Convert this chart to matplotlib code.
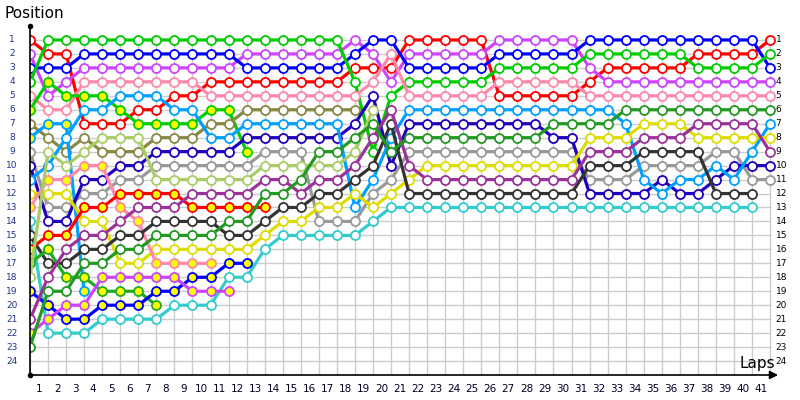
import matplotlib.pyplot as plt

# lap 0 = starting grid, then laps 1..41
laps = list(range(0, 42))
lap_labels = [str(i) for i in range(1, 42)]
grid_rows = list(range(1, 25))

# position of every car at the end of each lap (index = lap)
red = [1, 2, 2, 7, 7, 7, 6, 6, 5, 5, 4, 4, 4, 4, 4, 4, 4, 4, 3, 3, 3, 1, 1, 1, 1, 1,
       5, 5, 5, 5, 5, 4, 3, 3, 3, 3, 3, 2, 2, 2, 2, 1]
violet = [2, 5, 4, 3, 3, 3, 3, 3, 3, 3, 3, 3, 2, 2, 2, 2, 2, 2, 1, 2, 4, 2, 2, 2, 2, 2,
          1, 1, 1, 1, 1, 3, 4, 4, 4, 4, 4, 4, 4, 4, 4, 4]
blue = [3, 3, 3, 2, 2, 2, 2, 2, 2, 2, 2, 2, 3, 3, 3, 3, 3, 3, 2, 1, 1, 3, 3, 3, 3, 3,
        2, 2, 2, 2, 2, 1, 1, 1, 1, 1, 1, 1, 1, 1, 1, 3]
green = [4, 1, 1, 1, 1, 1, 1, 1, 1, 1, 1, 1, 1, 1, 1, 1, 1, 1, 4, 9, 5, 4, 4, 4, 4, 4,
         3, 3, 3, 3, 3, 2, 2, 2, 2, 2, 2, 3, 3, 3, 3, 2]
pink = [5, 6, 6, 4, 4, 4, 4, 4, 4, 4, 5, 5, 5, 5, 5, 5, 5, 5, 5, 4, 2, 5, 5, 5, 5, 5,
        4, 4, 4, 4, 4, 5, 5, 5, 5, 5, 5, 5, 5, 5, 5, 5]
green_y = [6, 4, 5, 5, 5, 6, 7, 7, 7, 7, 6, 6, 9]
olive = [7, 8, 9, 8, 9, 9, 9, 8, 8, 8, 7, 7, 6, 6, 6, 6, 6, 6, 6]
lblue_y = [8, 7, 7, 19]
gray = [9, 13, 13, 12, 12, 11, 11, 10, 10, 10, 10, 10, 10, 9, 9, 9, 14, 14, 14, 12, 11,
        9, 9, 9, 9, 9, 9, 9, 9, 9, 9, 11, 11, 11, 10, 10, 10, 10, 9, 9, 11, 11]
dkblue = [10, 14, 14, 11, 11, 10, 10, 9, 9, 9, 9, 9, 8, 8, 8, 8, 8, 8, 7, 5, 10, 7, 7,
          7, 7, 7, 7, 7, 7, 8, 8, 12, 12, 12, 12, 11, 12, 12, 11, 10, 10, 10]
lblue = [11, 10, 8, 6, 6, 5, 5, 5, 6, 6, 8, 8, 7, 7, 7, 7, 7, 7, 13, 11, 8, 6, 6, 6, 6,
         6, 6, 6, 6, 6, 6, 6, 6, 7, 11, 12, 11, 11, 10, 11, 9, 7]
yellow = [12, 12, 12, 14, 14, 17, 17, 16, 16, 16, 16, 16, 16, 15, 14, 14, 13, 13, 12, 13,
          12, 11, 10, 10, 10, 10, 10, 10, 10, 10, 10, 8, 8, 8, 7, 7, 7, 8, 8, 8, 8, 8]
pink_y = [13, 11, 11, 10, 10, 13, 14, 17, 17, 17, 17]
cyan = [14, 22, 22, 22, 21, 21, 21, 21, 20, 20, 20, 18, 18, 16, 15, 15, 15, 15, 15, 14,
        13, 13, 13, 13, 13, 13, 13, 13, 13, 13, 13, 13, 13, 13, 13, 13, 13, 13, 13, 13, 13]
black = [15, 17, 17, 16, 16, 15, 15, 14, 14, 14, 14, 15, 15, 14, 13, 13, 12, 12, 11, 10,
         7, 12, 12, 12, 12, 12, 12, 12, 12, 12, 12, 10, 10, 10, 9, 9, 9, 9, 12, 12, 12]
red_y = [16, 15, 15, 13, 13, 12, 12, 12, 12, 13, 13, 13, 13, 13]
green_y2 = [17, 16, 18, 18, 19, 19, 19, 20]
lgreen = [18, 9, 10, 9, 8, 8, 8, 11, 11, 11, 11, 11, 11, 10, 10, 10, 10, 10, 9, 6]
blue_y = [19, 20, 21, 21, 20, 20, 20, 19, 19, 18, 18, 17, 17]
purple = [21, 18, 16, 15, 15, 14, 13, 13, 13, 12, 12, 12, 12, 11, 11, 12, 11, 11, 10, 8,
          6, 10, 11, 11, 11, 11, 11, 11, 11, 11, 11, 9, 9, 9, 8, 8, 8, 7, 7, 7, 7, 9]
violet_y = [22, 21, 20, 20, 18, 18, 18, 18, 18, 19, 19, 19]
dkgreen = [23, 19, 19, 17, 17, 16, 16, 15, 15, 15, 15, 14, 14, 12, 12, 11, 9, 9, 8, 7, 9,
           8, 8, 8, 8, 8, 8, 8, 8, 7, 7, 7, 7, 6, 6, 6, 6, 6, 6, 6, 6, 6]

cars = [red, violet, blue, green, pink, green_y, olive, lblue_y, gray, dkblue, lblue,
        yellow, pink_y, cyan, black, red_y, green_y2, lgreen, blue_y, purple, violet_y,
        dkgreen]
line_colors = ["#ff0000", "#cc44ff", "#0000ff", "#00cc00", "#ff88aa", "#00cc00",
               "#888844", "#00a0ff", "#999999", "#2200bb", "#00a0ff", "#dddd00",
               "#ff88aa", "#33cccc", "#333333", "#ff0000", "#22aa22", "#aacc66",
               "#0000ff", "#993399", "#cc44ff", "#229922"]
fills = ["white", "white", "white", "white", "white", "#ffff00", "white", "#ffff00",
         "white", "white", "white", "white", "#ffff00", "white", "white", "#ffff00",
         "#ffff00", "white", "#ffff00", "white", "#ffff00", "white"]

fig = plt.figure(figsize=(8, 4), dpi=100)
ax = fig.add_axes([30 / 800, 25 / 400, 760 / 800, 349 / 400])
ax.set_xlim(0, 760 / 18.05)
ax.set_ylim(25, 0)
ax.axis("off")

# light grid
for lap in laps:
    ax.plot([lap, lap], [1, 25], color="#cccccc", lw=1, zorder=0)
for p in grid_rows:
    ax.plot([0, 41], [p, p], color="#cccccc", lw=1, zorder=0)

for pos, col, fc in zip(cars, line_colors, fills):
    ax.plot(range(len(pos)), pos, color=col, lw=2.3, marker="o", ms=6.5,
            mfc=fc, mec=col, mew=1.3, zorder=3)

# axes drawn by hand
ax.plot([0, 0], [0, 25], color="black", lw=1.2, zorder=4, clip_on=False)
ax.plot([0, 0], [0, 25], "o", color="black", ms=3, zorder=4, clip_on=False)
ax.annotate("", xy=(41.6, 25), xytext=(0, 25),
            arrowprops=dict(arrowstyle="-|>", color="black", lw=1.2,
                            mutation_scale=12), annotation_clip=False)

for i, lab in enumerate(lap_labels):
    ax.text(i + 0.5, 26.0, lab, ha="center", va="center", fontsize=7.5,
            color="#000022", clip_on=False)
for p in grid_rows:
    ax.text(41.3, p, str(p), ha="left", va="center", fontsize=6.5, color="black")
    ax.text(-1.0, p, str(p), ha="center", va="center", fontsize=6.5, color="#223388",
            clip_on=False)

fig.text(5 / 800, 1 - 14 / 400, "Position", fontsize=11, va="center", ha="left")
ax.text(41.3, 24.2, "Laps", fontsize=11, ha="right", va="center")

fig.savefig("out.png", dpi=100)
